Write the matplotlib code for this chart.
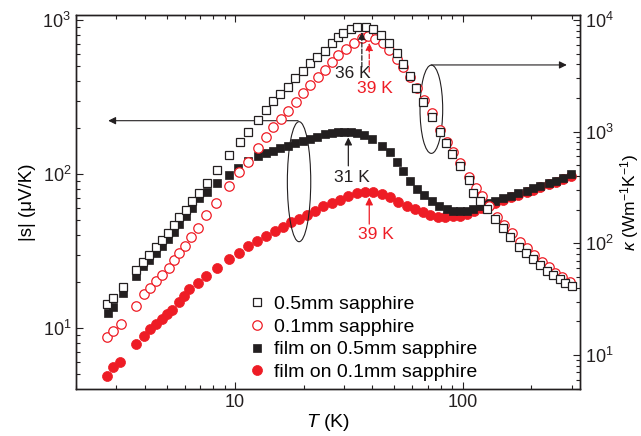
import numpy as np
import matplotlib; matplotlib.use("Agg")
import matplotlib.pyplot as plt
from matplotlib.patches import Ellipse

plt.rcParams["font.family"] = ["Liberation Sans", "DejaVu Sans"]
plt.rcParams["mathtext.fontset"] = "custom"
plt.rcParams["mathtext.rm"] = "Liberation Sans"
plt.rcParams["mathtext.it"] = "Liberation Sans:italic"

RED = "#ee1c25"; BLK = "#231f20"

# ---- data: thermal conductivity of bare substrates (right axis) -------------------------------------
T_sap05 = [2.73, 2.92, 3.21, 3.67, 3.93, 4.20, 4.47, 4.78, 5.08, 5.36, 5.69, 6.09, 6.48, 6.92, 7.51,
           8.31, 9.35, 10.5, 11.4, 12.6, 13.7, 14.7, 15.8, 17.0, 18.3, 19.8, 21.3, 22.9, 24.9, 26.6,
           28.2, 29.9, 32.2, 34.4, 37.6, 40.5, 43.8, 47.6, 51.3, 54.8, 58.7, 62.4, 67.1, 73.1, 79.5,
           84.2, 90.0, 97.3, 106, 111, 119, 128, 139, 150, 161, 177, 190, 203, 219, 234, 250, 266, 281, 301]
k_sap05 = [28.6, 32.1, 40.3, 57.6, 68.4, 78.5, 92.1, 107, 123, 146, 173, 199, 241, 284, 349,
           454, 618, 813, 1000, 1273, 1564, 1884, 2177, 2531, 3010, 3520, 4102, 4643, 5318, 6274,
           7015, 7615, 8270, 8620, 8727, 8270, 7354, 6196, 5040, 4040, 3156, 2449, 1857, 1362, 1000,
           787, 631, 493, 369, 281, 241, 202, 164, 136, 115, 93.2, 82.4, 71.9, 63.9, 56.8, 52.0, 47.6, 44.4, 41.4]

T_sap01 = [2.73, 2.92, 3.15, 3.67, 3.98, 4.23, 4.48, 4.79, 5.10, 5.36, 5.66, 6.03, 6.41, 6.90, 7.46,
           8.25, 9.35, 10.4, 11.4, 12.6, 13.7, 14.7, 15.9, 17.1, 18.5, 19.9, 21.3, 23.0, 24.9, 26.7,
           28.4, 30.7, 33.1, 36.0, 38.5, 41.2, 44.5, 47.6, 51.3, 54.8, 58.7, 62.8, 67.6, 73.1, 79.5,
           85.1, 90.9, 97.3, 106, 113.8, 121.5, 130.5, 141, 152, 164, 178.5, 192, 206, 222, 238, 254, 272, 296]
k_sap01 = [14.4, 16.4, 18.8, 27.3, 35.1, 39.8, 45.9, 51.5, 59.7, 70.9, 81.4, 95.2, 115, 138, 179,
           231, 326, 433, 538, 710, 902, 1095, 1300, 1543, 1857, 2199, 2620, 3092, 3572, 4186,
           4817, 5474, 6196, 6870, 7203, 6730, 6274, 5395, 4453, 3823, 3111, 2449, 1923, 1461, 1035,
           813, 662, 521, 395, 311, 263, 216, 173, 146, 124, 103, 90.2, 78.6, 68.4, 61.0, 54.5, 49.6, 45.3]

# ---- data: thermopower of films (left axis) ----------------------------------------------------------
T_film05 = [2.75, 2.92, 3.21, 3.67, 3.93, 4.20, 4.47, 4.78, 5.08, 5.36, 5.69, 6.09, 6.48, 6.92, 7.51,
            8.31, 9.35, 10.3, 11.4, 12.6, 13.7, 14.7, 15.8, 17.0, 18.3, 19.8, 21.3, 22.9, 24.9, 26.6,
            28.3, 30.1, 32.2, 34.4, 36.9, 39.8, 44.1, 47.9, 51.3, 54.8, 58.3, 62.8, 67.6, 73.1, 78.9,
            85.1, 90.9, 97.3, 104.1, 110.6, 119, 128, 139, 150, 162, 175, 191, 204, 219, 238, 257, 276, 299]
S_film05 = [12.6, 13.7, 16.9, 21.9, 25.1, 27.6, 30.7, 34.3, 37.8, 42.3, 47.7, 53.4, 60.6, 69.9, 76.8,
            87.0, 98.5, 110, 121, 131, 137, 142, 148, 153, 159, 165, 170, 175, 181, 184,
            187, 187, 187, 184, 178, 169, 153, 138, 120, 105, 90.1, 79.9, 73.0, 67.1, 62.3,
            59.0, 57.5, 57.3, 57.8, 59.3, 62.3, 64.8, 67.1, 69.5, 72.3, 75.3, 77.9, 80.7, 83.9, 87.4, 90.5, 94.9, 100]

T_film01 = [2.73, 2.91, 3.13, 3.67, 3.96, 4.23, 4.48, 4.75, 5.01, 5.27, 5.64, 5.93, 6.30, 6.90, 7.46,
            8.28, 9.35, 10.4, 11.4, 12.5, 13.7, 14.9, 16.2, 17.6, 19.0, 20.6, 22.5, 24.4, 26.6, 28.9,
            31.4, 34.2, 37.2, 40.5, 44.1, 47.9, 52.1, 56.8, 61.7, 66.7, 71.8, 77.4, 83.6, 90.4, 97.3,
            104.4, 112.1, 120.3, 129.1, 139, 150, 162, 175, 191, 204, 219, 238, 257, 276, 299]
S_film01 = [4.88, 5.58, 6.06, 7.93, 8.94, 9.93, 10.6, 11.5, 12.3, 13.1, 14.7, 16.1, 17.8, 19.6, 21.8,
            24.4, 28.1, 30.8, 34.1, 36.9, 39.8, 42.5, 45.5, 48.6, 51.0, 54.2, 57.8, 61.7, 64.8, 68.1,
            72.3, 74.9, 76.8, 76.1, 74.2, 70.6, 66.1, 62.3, 59.3, 56.4, 54.2, 52.8, 52.4, 53.1, 53.6,
            55.4, 57.5, 60.1, 62.9, 65.3, 67.8, 70.6, 73.6, 76.4, 79.3, 82.3, 85.7, 88.7, 92.8, 97.8]

labels = ["0.5mm sapphire", "0.1mm sapphire", "film on 0.5mm sapphire", "film on 0.1mm sapphire"]

# ---- figure ------------------------------------------------------------------------------------------
fig = plt.figure(figsize=(6.41, 4.36), dpi=100)
ax = fig.add_axes([0.1186, 0.1078, 0.7863, 0.8578])
ax2 = ax.twinx()

h4, = ax.plot(T_film01, S_film01, "o", ms=7.2, color=RED, mec=RED, mew=0.5, ls="none")
h3, = ax.plot(T_film05, S_film05, "s", ms=6.2, color=BLK, mec=BLK, mew=0.5, ls="none")
h2, = ax2.plot(T_sap01, k_sap01, "o", ms=6.8, mfc="white", mec=RED, mew=0.9, ls="none")
h1, = ax2.plot(T_sap05, k_sap05, "s", ms=6.0, mfc="white", mec=BLK, mew=0.9, ls="none")

for a in (ax, ax2):
    a.set_xscale("log"); a.set_yscale("log")
ax.set_xlim(2.0, 327)
ax.set_ylim(4.02, 1078)
ax2.set_ylim(4.95, 11100)
ax.set_xticks([10, 100]); ax.set_xticklabels(["10", "100"])

ax.tick_params(which="both", direction="in", top=True, right=False, labelsize=13, colors=BLK, width=0.8)
ax.tick_params(which="major", length=5); ax.tick_params(which="minor", length=3)
ax2.tick_params(which="both", direction="in", labelsize=13, colors=BLK, width=0.8)
ax2.tick_params(which="major", length=5); ax2.tick_params(which="minor", length=3)
for a in (ax, ax2):
    for s in a.spines.values():
        s.set_linewidth(1.0); s.set_color(BLK)

ax.set_xlabel("$T$ (K)", fontsize=14, labelpad=1)
ax.set_ylabel("|s| (μV/K)", fontsize=13.5, labelpad=5)
ax2.set_ylabel("$\\kappa$ (Wm$^{-1}$K$^{-1}$)", fontsize=12.5, labelpad=3)

# peak markers
arr = dict(arrowstyle="-|>", lw=0.9, mutation_scale=11, shrinkA=0, shrinkB=0)
ax2.annotate("", xy=(36, 7816), xytext=(36, 3800), arrowprops=dict(arr, color=BLK, ls="--"))
ax2.annotate("", xy=(38.8, 6237), xytext=(38.8, 3429), arrowprops=dict(arr, color=RED, ls="--"))
ax2.text(32.7, 3289, "36 K", ha="center", va="center", fontsize=12.5, color=BLK)
ax2.text(41.2, 2413, "39 K", ha="center", va="center", fontsize=12.5, color=RED)
ax.annotate("", xy=(31.4, 173), xytext=(31.4, 113), arrowprops=dict(arr, color=BLK))
ax.annotate("", xy=(38.8, 70.6), xytext=(38.8, 47.3), arrowprops=dict(arr, color=RED))
ax.text(32.7, 95.6, "31 K", ha="center", va="center", fontsize=12.5, color=BLK)
ax.text(41.6, 40.2, "39 K", ha="center", va="center", fontsize=12.5, color=RED)

# which axis belongs to which data set
ax2.add_patch(Ellipse((0.4425, 0.5543), 0.0464, 0.3209, transform=ax.transAxes, fill=False, lw=0.8, ec=BLK))
ax2.add_patch(Ellipse((0.705, 0.748), 0.045, 0.236, transform=ax.transAxes, fill=False, lw=0.8, ec=BLK))
ax.annotate("", xy=(2.77, 222), xytext=(18.9, 222), arrowprops=dict(arr, color=BLK, lw=0.8))
ax2.annotate("", xy=(286, 3961), xytext=(72.6, 3961), arrowprops=dict(arr, color=BLK, lw=0.8))

ax2.legend([h1, h2, h3, h4], labels, loc="upper left", bbox_to_anchor=(0.3405, 0.25), frameon=False,
           fontsize=14, handlelength=1.0, handletextpad=0.36, labelspacing=0.26, borderpad=0, borderaxespad=0)

fig.savefig("out.png", dpi=100)
